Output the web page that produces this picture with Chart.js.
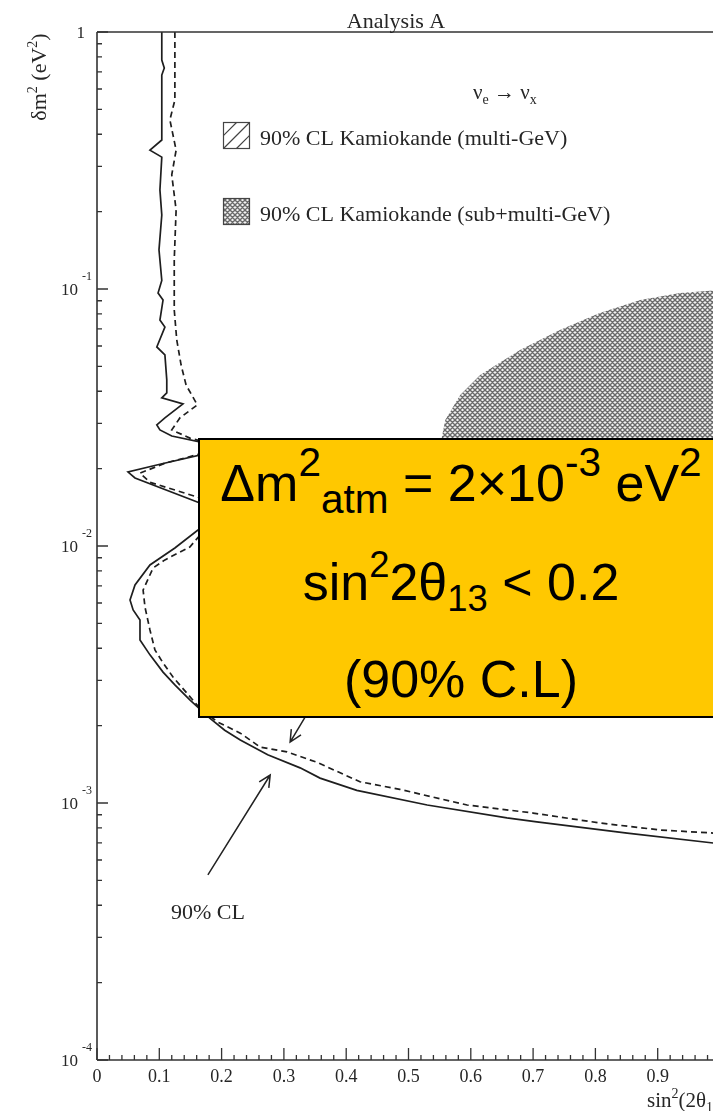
<!DOCTYPE html>
<html>
<head>
<meta charset="utf-8">
<script src="https://cdn.jsdelivr.net/npm/chart.js@4.4.0/dist/chart.umd.min.js"></script>
<style>
html, body { margin: 0; padding: 0; background: #fff; }
#wrap { position: relative; width: 713px; height: 1111px; overflow: hidden; }
#canvas { position: absolute; left: 0; top: 0; }
#box { position: absolute; left: 198px; top: 438px; width: 526px; height: 280px; background: #ffc800;
       border: 2px solid #000; box-sizing: border-box; font-family: "Liberation Sans", Arial, sans-serif;
       font-size: 52px; color: #000; }
#box div { position: absolute; left: 0; width: 100%; text-align: center; line-height: 52px; white-space: nowrap; }
#box sup, #box sub { font-size: 0.7em; line-height: 0; }
#box sup { vertical-align: 0.62em; }
#box sub { vertical-align: -0.3em; }
#box .l1 sup, #box .l1 sub { font-size: 0.78em; }
</style>
</head>
<body>
<div id="wrap">
  <canvas id="canvas" width="730" height="1111"></canvas>
  <div id="box">
    <div class="l1" style="top:17px">&Delta;m<sup>2</sup><sub>atm</sub> = 2&times;10<sup>-3</sup> eV<sup>2</sup></div>
    <div style="top:116px">sin<sup>2</sup>2&theta;<sub>13</sub> &lt; 0.2</div>
    <div style="top:213px">(90% C.L)</div>
  </div>
</div>
<script>
// axis ticks
var xTicks = [0, 0.1, 0.2, 0.3, 0.4, 0.5, 0.6, 0.7, 0.8, 0.9];
var xTickLabels = ['0', '0.1', '0.2', '0.3', '0.4', '0.5', '0.6', '0.7', '0.8', '0.9'];
var yDecades = [1, 0.1, 0.01, 0.001, 0.0001];
var yExponents = ['', '-1', '-2', '-3', '-4'];

// 90% CL contour, solid
var solidX = [0.104, 0.104, 0.108, 0.104, 0.104, 0.085, 0.104, 0.101, 0.104, 0.0995, 0.104, 0.098, 0.106, 0.101, 0.109,
  0.096, 0.109, 0.112, 0.112, 0.104, 0.138, 0.109, 0.096, 0.101, 0.120, 0.165, 0.165, 0.101, 0.0498, 0.061, 0.162,
  0.23, 0.162, 0.125, 0.085, 0.061, 0.053, 0.058, 0.069, 0.069, 0.085, 0.106, 0.125, 0.149, 0.181, 0.205, 0.230,
  0.274, 0.326, 0.358, 0.417, 0.530, 0.658, 0.706, 0.851, 0.989, 1.0];
var solidY = [1.0, 0.778, 0.724, 0.680, 0.380, 0.347, 0.326, 0.243, 0.194, 0.142, 0.108, 0.0965, 0.0906, 0.0757, 0.0711,
  0.0595, 0.0554, 0.0443, 0.0394, 0.0377, 0.0357, 0.0315, 0.0296, 0.0283, 0.0268, 0.0254, 0.0226, 0.0208, 0.0194, 0.0184, 0.0148,
  0.0132, 0.01154, 0.00982, 0.00844, 0.00705, 0.00616, 0.00564, 0.00515, 0.00431, 0.00377, 0.00323, 0.00288, 0.00252, 0.00214, 0.00192, 0.00176,
  0.00154, 0.00137, 0.00125, 0.00112, 0.000982, 0.000875, 0.000844, 0.000764, 0.000699, 0.00069];

// second contour, dashed
var dashX = [0.125, 0.125, 0.117, 0.127, 0.120, 0.127, 0.124, 0.124, 0.128, 0.135, 0.143, 0.161, 0.133, 0.120, 0.149, 0.173,
  0.165, 0.109, 0.069, 0.085, 0.165, 0.246, 0.165, 0.149, 0.109, 0.090, 0.074, 0.077, 0.085, 0.093, 0.106, 0.122, 0.144,
  0.165, 0.193, 0.230, 0.262, 0.305, 0.353, 0.422, 0.486, 0.594, 0.700, 0.807, 0.904, 0.989, 1.0];
var dashY = [1.0, 0.544, 0.455, 0.347, 0.278, 0.203, 0.130, 0.0828, 0.0634, 0.0506, 0.0423, 0.0354, 0.0315, 0.0283, 0.0263, 0.0254,
  0.0228, 0.0210, 0.0192, 0.0177, 0.0154, 0.0132, 0.0110, 0.00991, 0.00883, 0.00821, 0.00674, 0.00579, 0.00471, 0.00394, 0.00351, 0.00309, 0.00268,
  0.00234, 0.00207, 0.00187, 0.00165, 0.00158, 0.00144, 0.00121, 0.00113, 0.000982, 0.000914, 0.000836, 0.000785, 0.000764, 0.00075];

// Kamiokande sub+multi-GeV region (outline)
var blobX = [0.551, 0.559, 0.583, 0.615, 0.679, 0.743, 0.807, 0.872, 0.936, 1.0, 1.0, 0.551];
var blobY = [0.0247, 0.0309, 0.0387, 0.0463, 0.0579, 0.0692, 0.0807, 0.0906, 0.0965, 0.0991, 0.02, 0.02];

// arrows and label of the "90% CL" annotation
var arrowsFrom = [[0.178, 0.000525], [0.334, 0.00216]];
var arrowsTo = [[0.278, 0.001285], [0.310, 0.001727]];
var clLabelAt = [0.178, 0.000373];

function toPoints(xs, ys) {
    var pts = [];
    for (var i = 0; i < xs.length; i++) pts.push({x: xs[i], y: ys[i]});
    return pts;
}

function makeHatch(size) {
    var c = document.createElement('canvas');
    c.width = size; c.height = size;
    var g = c.getContext('2d');
    g.fillStyle = '#f2f2f2';
    g.fillRect(0, 0, size, size);
    g.strokeStyle = '#6a6a6a';
    g.lineWidth = 1.4;
    g.beginPath();
    g.moveTo(-1, size + 1); g.lineTo(size + 1, -1);
    g.moveTo(-1, 1); g.lineTo(1, -1);
    g.moveTo(size - 1, size + 1); g.lineTo(size + 1, size - 1);
    g.moveTo(-1, -1); g.lineTo(size + 1, size + 1);
    g.moveTo(size - 1, -1); g.lineTo(size + 1, 1);
    g.moveTo(-1, size - 1); g.lineTo(1, size + 1);
    g.stroke();
    return g.createPattern(c, 'repeat');
}

var canv = document.getElementById('canvas');
var ctx = canv.getContext('2d');
var hatch = makeHatch(5);

var serif = '"Liberation Serif", "Times New Roman", serif';
var ink = '#262626';

function drawPieces(c, pieces, x, y) {
    // pieces: [text, fontSize, dy]
    for (var i = 0; i < pieces.length; i++) {
        c.font = pieces[i][1] + 'px ' + serif;
        c.fillText(pieces[i][0], x, y + pieces[i][2]);
        x += c.measureText(pieces[i][0]).width;
    }
    return x;
}

function piecesWidth(c, pieces) {
    var w = 0;
    for (var i = 0; i < pieces.length; i++) {
        c.font = pieces[i][1] + 'px ' + serif;
        w += c.measureText(pieces[i][0]).width;
    }
    return w;
}

function arrow(c, x1, y1, x2, y2) {
    var a = Math.atan2(y2 - y1, x2 - x1);
    var h = 13;
    c.beginPath();
    c.moveTo(x1, y1);
    c.lineTo(x2, y2);
    c.moveTo(x2 - h * Math.cos(a - 0.45), y2 - h * Math.sin(a - 0.45));
    c.lineTo(x2, y2);
    c.lineTo(x2 - h * Math.cos(a + 0.45), y2 - h * Math.sin(a + 0.45));
    c.stroke();
}

var framePlugin = {
    id: 'frame',
    afterDraw: function(chart) {
        var c = chart.ctx;
        var xs = chart.scales.x, ys = chart.scales.y;
        var left = xs.getPixelForValue(0), right = xs.getPixelForValue(1);
        var top = ys.getPixelForValue(1), bottom = ys.getPixelForValue(0.0001);
        c.save();
        c.strokeStyle = '#333';
        c.fillStyle = ink;
        c.lineWidth = 1.6;

        // frame
        c.beginPath();
        c.moveTo(left, top); c.lineTo(right, top);
        c.moveTo(left, top); c.lineTo(left, bottom);
        c.moveTo(left, bottom); c.lineTo(right, bottom);
        c.stroke();

        // y ticks
        c.lineWidth = 1.3;
        c.beginPath();
        for (var d = 0; d < yDecades.length; d++) {
            var py = ys.getPixelForValue(yDecades[d]);
            c.moveTo(left, py); c.lineTo(left + 11, py);
            if (d > 0) {
                for (var m = 2; m <= 9; m++) {
                    var pm = ys.getPixelForValue(yDecades[d] * m);
                    c.moveTo(left, pm); c.lineTo(left + 5, pm);
                }
            }
        }
        // x ticks
        for (var k = 0; k <= 50; k++) {
            var v = k * 0.02;
            var px = xs.getPixelForValue(v);
            var len = (k % 5 === 0) ? 12 : 5;
            c.moveTo(px, bottom); c.lineTo(px, bottom - len);
        }
        c.stroke();

        // y tick labels
        c.textBaseline = 'middle';
        for (var d2 = 0; d2 < yDecades.length; d2++) {
            var ty = ys.getPixelForValue(yDecades[d2]);
            if (yExponents[d2] === '') {
                c.font = '17px ' + serif;
                c.textAlign = 'right';
                c.fillText('1', 85, ty + 2);
            } else {
                c.font = '17px ' + serif;
                c.textAlign = 'right';
                c.fillText('10', 78, ty + 2);
                c.font = '12px ' + serif;
                c.textAlign = 'left';
                c.fillText(yExponents[d2], 82, ty - 12);
            }
        }

        // x tick labels
        c.font = '18px ' + serif;
        c.textAlign = 'center';
        for (var t = 0; t < xTicks.length; t++) {
            c.fillText(xTickLabels[t], xs.getPixelForValue(xTicks[t]), 1077);
        }

        // x axis title
        c.textAlign = 'left';
        c.textBaseline = 'alphabetic';
        drawPieces(c, [['sin', 21, 0], ['2', 14, -9], ['(2\u03b8', 21, 0], ['13', 14, 5], [')', 21, 0]], 647, 1107);

        // y axis title, rotated
        var yt = [['\u03b4m', 22, 0], ['2', 14, -9], [' (eV', 22, 0], ['2', 14, -9], [')', 22, 0]];
        c.save();
        c.translate(46, 77);
        c.rotate(-Math.PI / 2);
        drawPieces(c, yt, -piecesWidth(c, yt) / 2, 0);
        c.restore();

        // title
        c.font = '22px ' + serif;
        c.textAlign = 'center';
        c.fillText('Analysis A', 396, 28);

        // process label
        c.textAlign = 'left';
        drawPieces(c, [['\u03bd', 21, 0], ['e', 14, 5], [' \u2192 ', 21, 0], ['\u03bd', 21, 0], ['x', 14, 5]], 473, 99);

        // legend
        c.lineWidth = 1.2;
        c.strokeStyle = '#444';
        c.strokeRect(223.5, 122.5, 26, 26);
        c.save();
        c.beginPath();
        c.rect(223.5, 122.5, 26, 26);
        c.clip();
        c.beginPath();
        for (var s = -26; s <= 26; s += 13) {
            c.moveTo(223.5 + s, 148.5); c.lineTo(249.5 + s, 122.5);
        }
        c.stroke();
        c.restore();
        c.fillStyle = hatch;
        c.fillRect(223.5, 198.5, 26, 26);
        c.strokeRect(223.5, 198.5, 26, 26);
        c.fillStyle = ink;
        c.font = '22px ' + serif;
        c.fillText('90% CL Kamiokande (multi-GeV)', 260, 145);
        c.fillText('90% CL Kamiokande (sub+multi-GeV)', 260, 221);

        // 90% CL annotation
        c.strokeStyle = '#222';
        c.lineWidth = 1.5;
        for (var a = 0; a < arrowsFrom.length; a++) {
            arrow(c, xs.getPixelForValue(arrowsFrom[a][0]), ys.getPixelForValue(arrowsFrom[a][1]),
                xs.getPixelForValue(arrowsTo[a][0]), ys.getPixelForValue(arrowsTo[a][1]));
        }
        c.textAlign = 'center';
        c.textBaseline = 'middle';
        c.fillText('90% CL', xs.getPixelForValue(clLabelAt[0]), ys.getPixelForValue(clLabelAt[1]));
        c.restore();
    }
};

window.myChart = new Chart(ctx, {
    type: 'line',
    data: {
        datasets: [{
            label: '90% CL',
            data: toPoints(solidX, solidY),
            borderColor: '#1e1e1e',
            borderWidth: 1.7,
            pointRadius: 0,
            fill: false,
            order: 1
        }, {
            label: '90% CL (dashed)',
            data: toPoints(dashX, dashY),
            borderColor: '#1e1e1e',
            borderWidth: 1.7,
            borderDash: [6, 4],
            pointRadius: 0,
            fill: false,
            order: 2
        }, {
            label: 'Kamiokande sub+multi-GeV',
            data: toPoints(blobX, blobY),
            borderColor: 'rgba(0,0,0,0)',
            borderWidth: 0,
            backgroundColor: hatch,
            pointRadius: 0,
            fill: 'shape',
            order: 3
        }]
    },
    options: {
        responsive: false,
        animation: false,
        events: [],
        layout: { padding: { left: 97, top: 32, right: 10, bottom: 51 } },
        plugins: { legend: { display: false }, tooltip: { enabled: false } },
        scales: {
            x: { type: 'linear', min: 0, max: 1, display: false },
            y: { type: 'logarithmic', min: 0.0001, max: 1, display: false }
        }
    },
    plugins: [framePlugin]
});
</script>
</body>
</html>
